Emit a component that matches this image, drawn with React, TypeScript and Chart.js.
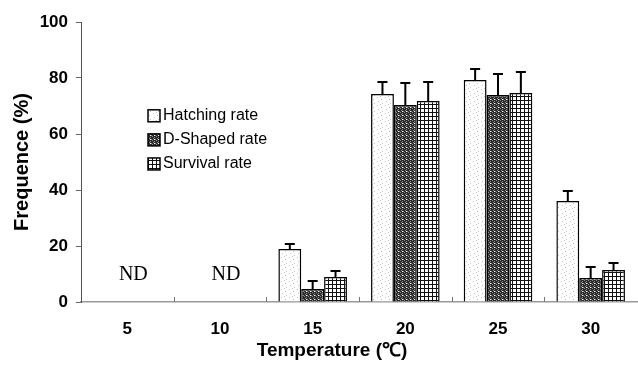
import React, { useEffect, useRef } from "react";
import { Chart, registerables } from "chart.js";

Chart.register(...registerables);

const categories = ["5", "10", "15", "20", "25", "30"];
const hatching = [0, 0, 18.9, 74.3, 79.3, 36.1];
const hatchingSD = [0, 0, 1.8, 4.3, 3.9, 3.5];
const dShaped = [0, 0, 4.6, 70.4, 73.9, 8.6];
const dShapedSD = [0, 0, 2.9, 7.8, 7.5, 3.9];
const survival = [0, 0, 8.9, 71.8, 74.6, 11.4];
const survivalSD = [0, 0, 2.2, 6.8, 7.5, 2.5];
const ndLabels = ["ND", "ND", "", "", "", ""];
const ndLevel = 9.6;
const seriesNames = ["Hatching rate", "D-Shaped rate", "Survival rate"];
const yTicks = [0, 20, 40, 60, 80, 100];

function makePattern(kind: string): CanvasPattern | string {
  const c = document.createElement("canvas");
  const ctx = c.getContext("2d");
  if (!ctx) return "#fff";
  if (kind === "hatch") {
    c.width = 8; c.height = 8;
    ctx.fillStyle = "#ffffff"; ctx.fillRect(0, 0, 8, 8);
    ctx.fillStyle = "#c4c4c4";
    [[1, 1], [5, 3], [2, 5], [6, 7], [4, 0]].forEach(([x, y]) => ctx.fillRect(x, y, 1, 1));
  } else if (kind === "dshape") {
    c.width = 4; c.height = 4;
    ctx.fillStyle = "#2a2a2a"; ctx.fillRect(0, 0, 4, 4);
    ctx.fillStyle = "#8a8a8a";
    [[0, 0], [2, 1], [1, 2], [3, 3]].forEach(([x, y]) => ctx.fillRect(x, y, 1, 1));
    ctx.fillStyle = "#ffffff";
    [[2, 3]].forEach(([x, y]) => ctx.fillRect(x, y, 1, 1));
  } else {
    c.width = 4; c.height = 4;
    ctx.fillStyle = "#ffffff"; ctx.fillRect(0, 0, 4, 4);
    ctx.fillStyle = "#111111";
    ctx.fillRect(0, 0, 4, 1);
    ctx.fillRect(0, 0, 1, 4);
  }
  const p = ctx.createPattern(c, "repeat");
  return p || "#fff";
}

export default function App() {
  const ref = useRef<HTMLCanvasElement | null>(null);
  useEffect(() => {
    document.body.style.margin = "0";
    const canvas = ref.current;
    if (!canvas) return;
    const fills = [makePattern("hatch"), makePattern("dshape"), makePattern("grid")];
    const sds = [hatchingSD, dShapedSD, survivalSD];

    const extras = {
      id: "extras",
      afterDatasetsDraw(chart: any) {
        const ctx = chart.ctx;
        const x = chart.scales.x;
        const y = chart.scales.y;
        const area = chart.chartArea;
        ctx.save();
        // error bars
        ctx.strokeStyle = "#000";
        ctx.lineWidth = 2;
        chart.data.datasets.forEach((ds: any, di: number) => {
          const meta = chart.getDatasetMeta(di);
          meta.data.forEach((bar: any, i: number) => {
            const sd = sds[di][i];
            if (!sd) return;
            const top = y.getPixelForValue(ds.data[i] + sd);
            ctx.beginPath();
            ctx.moveTo(bar.x, bar.y);
            ctx.lineTo(bar.x, top);
            ctx.moveTo(bar.x - 5, top);
            ctx.lineTo(bar.x + 5, top);
            ctx.stroke();
          });
        });
        // category boundary ticks inside
        ctx.strokeStyle = "#777";
        ctx.lineWidth = 1;
        for (let i = 1; i < categories.length; i++) {
          const px = Math.round((x.getPixelForValue(i - 1) + x.getPixelForValue(i)) / 2) + 0.5;
          ctx.beginPath();
          ctx.moveTo(px, area.bottom);
          ctx.lineTo(px, area.bottom - 5);
          ctx.stroke();
        }
        // ND labels
        ctx.fillStyle = "#000";
        ctx.font = "20px 'Liberation Serif', 'Times New Roman', serif";
        ctx.textAlign = "center";
        ctx.textBaseline = "middle";
        ndLabels.forEach((t, i) => {
          if (!t) return;
          ctx.fillText(t, x.getPixelForValue(i) + 6, y.getPixelForValue(ndLevel));
        });
        // legend
        ctx.font = "16px 'Liberation Sans', Arial, sans-serif";
        ctx.textAlign = "left";
        const lx = area.left + 67;
        seriesNames.forEach((name, i) => {
          const cy = y.getPixelForValue(66.5 - i * 8.6);
          ctx.fillStyle = fills[i] as any;
          ctx.fillRect(lx, cy - 6, 12, 12);
          ctx.strokeStyle = "#000";
          ctx.lineWidth = 1.5;
          ctx.strokeRect(lx, cy - 6, 12, 12);
          ctx.fillStyle = "#000";
          ctx.fillText(name, lx + 15, cy);
        });
        // x title
        ctx.font = "bold 19px 'Liberation Sans', Arial, sans-serif";
        ctx.textAlign = "center";
        ctx.fillText("Temperature (℃)", 332, 351);
        ctx.restore();
      },
    };

    const mk = (label: string, data: number[], i: number) => ({
      label,
      data,
      backgroundColor: fills[i] as any,
      borderColor: "#000",
      borderWidth: 1.5,
      borderSkipped: "bottom" as const,
      categoryPercentage: 0.74,
      barPercentage: 1.0,
    });

    const chart = new Chart(canvas, {
      type: "bar",
      data: {
        labels: categories,
        datasets: [
          mk(seriesNames[0], hatching, 0),
          mk(seriesNames[1], dShaped, 1),
          mk(seriesNames[2], survival, 2),
        ],
      },
      options: {
        responsive: false,
        animation: false,
        layout: { padding: { top: 22, right: 1, left: 0, bottom: 0 } },
        plugins: { legend: { display: false }, tooltip: { enabled: false } },
        scales: {
          x: {
            grid: { display: false },
            border: { color: "#999", width: 1.5 },
            ticks: {
              color: "#000",
              font: { family: "'Liberation Sans', Arial", size: 17, weight: "bold" },
              padding: 9,
              maxRotation: 0,
            },
            afterFit: (s: any) => { s.height = 63; },
          },
          y: {
            min: 0,
            max: 100,
            afterBuildTicks: (s: any) => { s.ticks = yTicks.map((v) => ({ value: v })); },
            grid: { drawOnChartArea: false, tickLength: 5, color: "#666" },
            border: { color: "#555", width: 1 },
            ticks: {
              color: "#000",
              font: { family: "'Liberation Sans', Arial", size: 17, weight: "bold" },
              padding: 8,
            },
            title: {
              display: true,
              text: "Frequence (%)",
              color: "#000",
              font: { family: "'Liberation Sans', Arial", size: 20, weight: "bold" },
              padding: { top: 10, bottom: 0 },
            },
            afterFit: (s: any) => { s.width = 81; },
          },
        },
      },
      plugins: [extras],
    });
    return () => chart.destroy();
  }, []);
  return <canvas ref={ref} width={638} height={365} style={{ display: "block" }} />;
}
